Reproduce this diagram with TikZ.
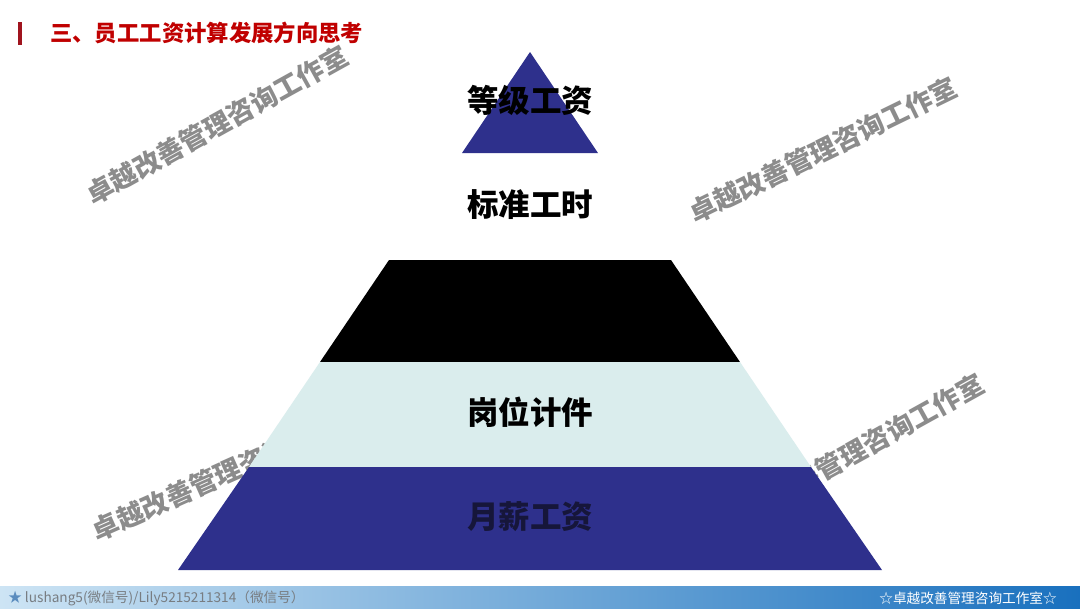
\documentclass[tikz,border=0pt]{standalone}
\usepackage{fontspec}
\setmainfont{Noto Sans CJK SC}
\usetikzlibrary{positioning}
\definecolor{navy}{RGB}{46,48,140}
\definecolor{navytxt}{RGB}{22,22,58}
\definecolor{pale}{RGB}{218,237,237}
\definecolor{ttlred}{RGB}{192,0,0}
\definecolor{barred}{RGB}{160,20,30}
\definecolor{wmgray}{RGB}{140,140,140}
\definecolor{ftlight}{RGB}{205,228,244}
\definecolor{ftdark}{RGB}{25,112,190}
\definecolor{ftgray}{RGB}{120,125,130}
\definecolor{ftstar}{RGB}{90,140,190}
\tikzset{
  lbl/.style={font=\fontsize{22.4}{22.4}\selectfont\bfseries, inner sep=0pt},
  wm/.style={font=\fontsize{19}{19}\selectfont\bfseries, text=wmgray, inner sep=0pt},
  ft/.style={font=\fontsize{9.7}{9.7}\selectfont, inner sep=0pt},
}

\begin{document}
\begin{tikzpicture}[x=0.025cm, y=-0.025cm]
\useasboundingbox (0,0) rectangle (1080,608);
\fill[white] (0,0) rectangle (1080,608);

% watermarks, under the pyramid
\node[wm, rotate=29] (wm1) at (217,125) {卓越改善管理咨询工作室};
\node[wm, rotate=26] (wm2) at (823,150) {卓越改善管理咨询工作室};
\node[wm, rotate=24] (wm3) at (228,472) {卓越改善管理咨询工作室};
\node[wm, rotate=29] (wm4) at (853,453) {卓越改善管理咨询工作室};

% pyramid
\fill[navy] (530,52) -- (598,153) -- (462,153) -- cycle;
\fill[black] (389,260) -- (671,260) -- (740,362) -- (320,362) -- cycle;
\fill[pale] (320,362) -- (740,362) -- (811,467) -- (249,467) -- cycle;
\fill[navy] (249,467) -- (811,467) -- (882,570) -- (178,570) -- cycle;

\node[lbl] (grade) at (530,100) {等级工资};
\node[lbl] (stdhr) at (530,205) {标准工时};
\node[lbl] (piece) at (530,412) {岗位计件};
\node[lbl, text=navytxt] (month) at (530,517) {月薪工资};

% title
\fill[barred] (18,22) rectangle (22,45);
\node[font=\fontsize{15.9}{15.9}\selectfont\bfseries, text=ttlred, inner sep=0pt, anchor=west] (ttl) at (50,33) {三、员工工资计算发展方向思考};

% footer
\shade[left color=ftlight, right color=ftdark] (0,586) rectangle (1080,608);
\node[ft, text=ftgray, anchor=west] (ftl) at (8,598) {\textcolor{ftstar}{★} lushang5(微信号)/Lily5215211314（微信号）};
\node[ft, text=white, anchor=east] (ftr) at (1057,598) {☆卓越改善管理咨询工作室☆};
\end{tikzpicture}
\end{document}
